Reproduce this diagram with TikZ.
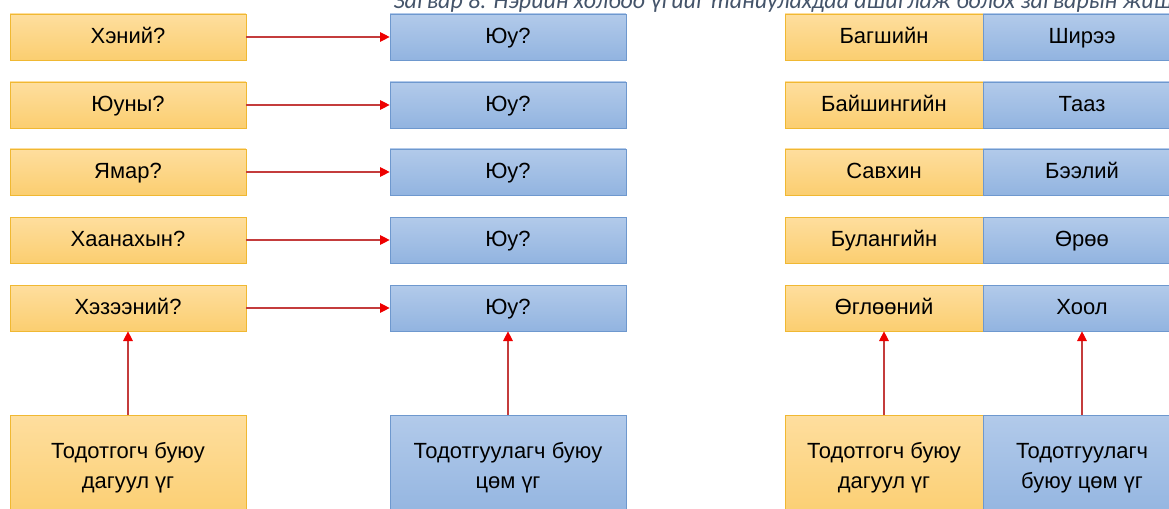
\documentclass[tikz,border=0pt]{standalone}
\usepackage{fontspec}
\setmainfont{Liberation Sans}
\newfontfamily\capfont{Carlito}
\usetikzlibrary{arrows.meta}
\definecolor{ylwtop}{RGB}{254,222,158}
\definecolor{ylwbot}{RGB}{251,206,112}
\definecolor{ylwline}{RGB}{240,184,50}
\definecolor{blutop}{RGB}{178,202,234}
\definecolor{blubot}{RGB}{146,180,224}
\definecolor{bluline}{RGB}{110,152,206}
\definecolor{linkred}{RGB}{196,60,60}
\definecolor{tipred}{RGB}{238,0,0}
\definecolor{capgray}{RGB}{68,84,106}
\tikzset{
  yel/.style={draw=ylwline, top color=ylwtop, bottom color=ylwbot,
    minimum width=4.72cm, minimum height=0.92cm, inner sep=0pt,
    font=\fontsize{12.5}{17}\selectfont},
  blu/.style={yel, draw=bluline, top color=blutop, bottom color=blubot},
  one/.style={text height=1.75ex, text depth=0.45ex},
  narrow/.style={minimum width=3.96cm},
  tall/.style={minimum height=2.1cm, align=center},
  link/.style={draw=linkred, line width=0.6pt,
    -{Triangle[length=5.5pt,width=5.5pt,color=tipred]}}
}
\begin{document}
\begin{tikzpicture}[x=0.02cm, y=-0.02cm]
\useasboundingbox (0,0) rectangle (1169,509);
\clip (0,0) rectangle (1169,509);

\node[anchor=base west, inner sep=0pt, text=capgray,
  font=\capfont\itshape\fontsize{13.6}{16}\selectfont] (cap) at (393,8.5)
  {Загвар 8. Нэрийн холбоо үгийг таниулахдаа ашиглаж болох загварын жишээ};

\foreach \i/\y/\t in {1/37/Хэний?, 2/105/Юуны?, 3/172/Ямар?,
    4/240/Хаанахын?, 5/308/Хэзээний?} {
  \node[yel, one] (q\i) at (128,\y) {\t};
  \node[blu, one] (a\i) at (508,\y) {Юу?};
  \draw[link] (q\i) -- (a\i);
}

\foreach \i/\y/\l/\r in {1/37/Багшийн/Ширээ, 2/105/Байшингийн/Тааз,
    3/172/Савхин/Бээлий, 4/240/Булангийн/Өрөө, 5/308/Өглөөний/Хоол} {
  \node[yel, one, narrow] (m\i) at (884,\y) {\l};
  \node[blu, one, narrow] (h\i) at (1082,\y) {\r};
}

\node[yel, tall] (dep) at (128,468) {Тодотгогч буюу\\дагуул үг};
\node[blu, tall] (head) at (508,468) {Тодотгуулагч буюу\\цөм үг};
\node[yel, narrow, tall] (dep2) at (884,468) {Тодотгогч буюу\\дагуул үг};
\node[blu, narrow, tall] (head2) at (1082,468) {Тодотгуулагч\\буюу цөм үг};

\draw[link] (dep) -- (q5);
\draw[link] (head) -- (a5);
\draw[link] (dep2) -- (m5);
\draw[link] (head2) -- (h5);
\end{tikzpicture}
\end{document}
